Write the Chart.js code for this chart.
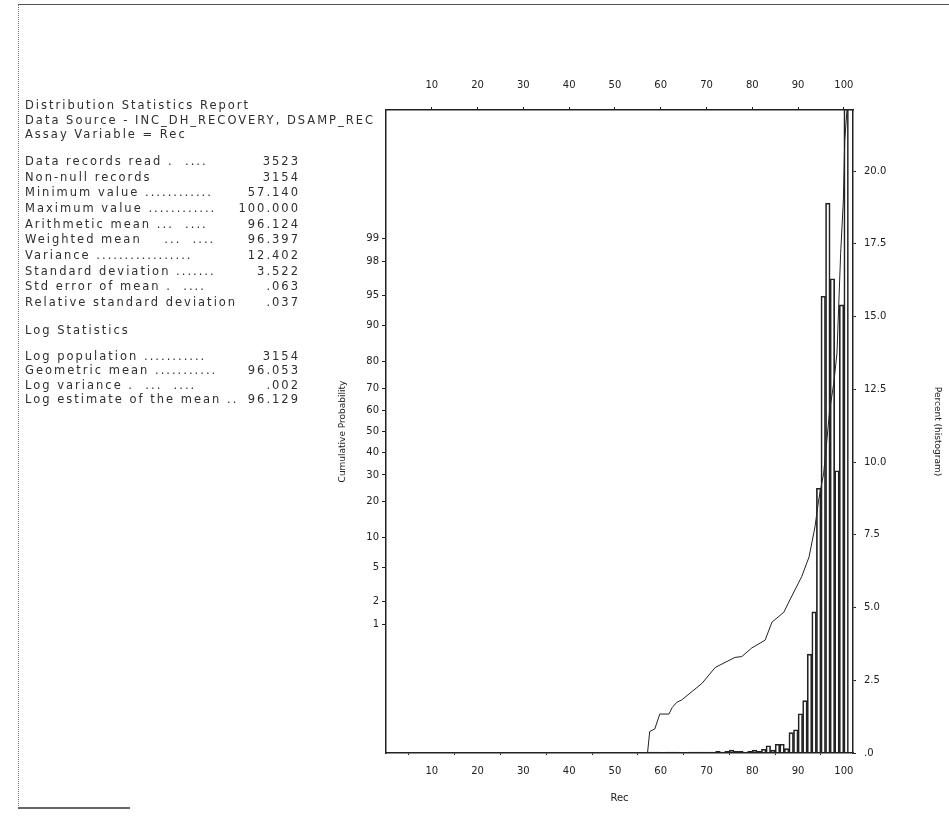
<!DOCTYPE html>
<html>
<head>
<meta charset="utf-8">
<title>Distribution Statistics Report</title>
<script src="https://cdn.jsdelivr.net/npm/chart.js@4.4.1/dist/chart.umd.min.js"></script>
<style>
  body { margin: 0; background: #fff; }
  #page { position: relative; width: 949px; height: 832px; overflow: hidden; font-family: "DejaVu Sans", sans-serif; color: #2e2e2e; }
  #sheet { position: absolute; left: 18px; top: 4px; width: 940px; height: 803px; border-top: 1px solid #555; border-left: 1px dotted #777; }
  #foot { position: absolute; left: 18px; top: 807px; width: 112px; border-top: 2px solid #666; }
  #chart { position: absolute; left: 0; top: 0; }
  .stats { position: absolute; left: 25px; width: 275px; font-size: 11.5px; letter-spacing: 2px; z-index: 2; }
  .row { display: flex; justify-content: space-between; white-space: pre; }
</style>
</head>
<body>
<div id="page">
  <div id="sheet"></div>
  <div id="foot"></div>
  <canvas id="chart" width="949" height="832"></canvas>

  <div class="stats" style="top:98px; line-height:14.5px; width:330px">
    <div class="row"><span>Distribution Statistics Report</span></div>
    <div class="row"><span>Data Source - INC_DH_RECOVERY, DSAMP_REC</span></div>
    <div class="row"><span>Assay Variable = Rec</span></div>
  </div>
  <div class="stats" style="top:154px; line-height:15.67px">
    <div class="row"><span>Data records read .  ....</span><span>3523</span></div>
    <div class="row"><span>Non-null records</span><span>3154</span></div>
    <div class="row"><span>Minimum value ............</span><span>57.140</span></div>
    <div class="row"><span>Maximum value ............</span><span>100.000</span></div>
    <div class="row"><span>Arithmetic mean ...  ....</span><span>96.124</span></div>
    <div class="row"><span>Weighted mean    ...  ....</span><span>96.397</span></div>
    <div class="row"><span>Variance .................</span><span>12.402</span></div>
    <div class="row"><span>Standard deviation .......</span><span>3.522</span></div>
    <div class="row"><span>Std error of mean .  ....</span><span>.063</span></div>
    <div class="row"><span>Relative standard deviation</span><span>.037</span></div>
  </div>
  <div class="stats" style="top:323px; line-height:15px">
    <div class="row"><span>Log Statistics</span></div>
  </div>
  <div class="stats" style="top:349px; line-height:14.33px">
    <div class="row"><span>Log population ...........</span><span>3154</span></div>
    <div class="row"><span>Geometric mean ...........</span><span>96.053</span></div>
    <div class="row"><span>Log variance .  ...  ....</span><span>.002</span></div>
    <div class="row"><span>Log estimate of the mean ..</span><span>96.129</span></div>
  </div>
</div>

<script>
// axis ticks
const recTicks = [10, 20, 30, 40, 50, 60, 70, 80, 90, 100];
const probTicks = [1, 2, 5, 10, 20, 30, 40, 50, 60, 70, 80, 90, 95, 98, 99];
const pctTicks = [0, 2.5, 5, 7.5, 10, 12.5, 15, 17.5, 20];

// histogram: lower edge of each 1-unit Rec class, percent of samples
const binStart = [57, 58, 59, 60, 61, 62, 63, 64, 65, 66, 67, 68, 69, 70, 71, 72, 73, 74, 75, 76, 77, 78,
                  79, 80, 81, 82, 83, 84, 85, 86, 87, 88, 89, 90, 91, 92, 93, 94, 95, 96, 97, 98, 99, 100];
const binPct = [0.03, 0.03, 0.03, 0, 0.03, 0.03, 0.03, 0, 0, 0.03, 0.03, 0.03, 0.03, 0.03, 0.03, 0.06, 0.03, 0.06, 0.1, 0.06, 0.06, 0.03,
                0.06, 0.1, 0.06, 0.13, 0.25, 0.1, 0.3, 0.3, 0.15, 0.7, 0.8, 1.35, 1.8, 3.4, 4.85, 9.1, 15.7, 18.9, 16.3, 9.7, 15.4, 23];

// cumulative probability curve (Rec, cumulative %)
const cumRec = [57.1, 57.6, 58.7, 59.8, 61.8, 62.5, 63.5, 64.6, 69.0, 71.9, 76.2, 77.7, 79.9, 82.8, 84.3, 86.9,
                88.2, 90.8, 92.4, 93.7, 94.5, 95.6, 96.3, 96.9, 97.8, 98.5, 99.3, 99.9, 100.2, 100.7];
const cumPct = [0.005, 0.0147, 0.0165, 0.0325, 0.0325, 0.043, 0.054, 0.06, 0.118, 0.22, 0.32, 0.33, 0.45, 0.59, 1.07, 1.46,
                2.1, 4.0, 6.5, 12.5, 20.4, 30.8, 46, 60, 72, 82.8, 98.4, 99.74, 99.978, 99.995];

// inverse normal, for the probability axis
function probit(p) {
    const a = [-3.969683028665376e+01, 2.209460984245205e+02, -2.759285104469687e+02, 1.383577518672690e+02, -3.066479806614716e+01, 2.506628277459239e+00];
    const b = [-5.447609879822406e+01, 1.615858368580409e+02, -1.556989798598866e+02, 6.680131188771972e+01, -1.328068155288572e+01];
    const c = [-7.784894002430293e-03, -3.223964580411365e-01, -2.400758277161838e+00, -2.549671010115443e+00, 4.374664141464968e+00, 2.938163982698783e+00];
    const d = [7.784695709041462e-03, 3.224671290700398e-01, 2.445134137142996e+00, 3.754408661907416e+00];
    const lo = 0.02425;
    if (p < lo) {
        const q = Math.sqrt(-2 * Math.log(p));
        return (((((c[0]*q + c[1])*q + c[2])*q + c[3])*q + c[4])*q + c[5]) / ((((d[0]*q + d[1])*q + d[2])*q + d[3])*q + 1);
    }
    if (p > 1 - lo) {
        const q = Math.sqrt(-2 * Math.log(1 - p));
        return -(((((c[0]*q + c[1])*q + c[2])*q + c[3])*q + c[4])*q + c[5]) / ((((d[0]*q + d[1])*q + d[2])*q + d[3])*q + 1);
    }
    const q = p - 0.5, r = q * q;
    return (((((a[0]*r + a[1])*r + a[2])*r + a[3])*r + a[4])*r + a[5])*q / (((((b[0]*r + b[1])*r + b[2])*r + b[3])*r + b[4])*r + 1);
}

const ink = '#222';
const font = { family: 'DejaVu Sans', size: 10 };
const tickGrid = { display: true, drawOnChartArea: false, drawTicks: true, tickLength: 4, color: ink, lineWidth: 1 };
const frame = { display: true, color: ink, width: 1.5 };

const ctx = document.getElementById('chart').getContext('2d');

new Chart(ctx, {
    data: {
        datasets: [
            {
                type: 'line',
                label: 'Cumulative',
                data: cumRec.map((r, i) => ({ x: r, y: probit(cumPct[i] / 100) })),
                xAxisID: 'x', yAxisID: 'y',
                borderColor: ink, borderWidth: 1, pointRadius: 0, tension: 0, fill: false, order: 0
            },
            {
                type: 'bar',
                label: 'Percent',
                data: binStart.map((s, i) => ({ x: s + 0.5, y: binPct[i] })),
                xAxisID: 'x', yAxisID: 'y2',
                backgroundColor: 'rgba(255,255,255,0)', borderColor: ink, borderWidth: 1,
                barPercentage: 1, categoryPercentage: 1, order: 1
            }
        ]
    },
    options: {
        responsive: false,
        animation: false,
        devicePixelRatio: 1,
        layout: { padding: { left: 330, top: 70, right: 0, bottom: 28 } },
        plugins: { legend: { display: false }, tooltip: { enabled: false } },
        scales: {
            x: {
                type: 'linear', position: 'bottom', min: 0, max: 102, offset: false,
                afterBuildTicks: s => { s.ticks = recTicks.map(v => ({ value: v })); },
                afterFit: s => { s.height = 51; },
                grid: { ...tickGrid, tickLength: 2 },
                border: frame,
                ticks: { color: ink, font: font, padding: 10, maxRotation: 0, autoSkip: false },
                title: { display: true, text: 'Rec', color: ink, font: font, padding: { top: 0, bottom: 0 } }
            },
            x2: {
                type: 'linear', position: 'top', min: 0, max: 102, offset: false,
                afterBuildTicks: s => { s.ticks = recTicks.map(v => ({ value: v })); },
                afterFit: s => { s.height = 40; },
                grid: { ...tickGrid, tickLength: 3 },
                border: frame,
                ticks: { color: ink, font: font, padding: 16, maxRotation: 0, autoSkip: false }
            },
            y: {
                type: 'linear', position: 'left', min: -3.88, max: 3.88,
                afterBuildTicks: s => { s.ticks = probTicks.map(p => ({ value: probit(p / 100) })); },
                afterFit: s => { s.width = 56; },
                grid: tickGrid,
                border: frame,
                ticks: { color: ink, font: font, padding: 3, autoSkip: false, callback: (v, i) => String(probTicks[i]) },
                title: { display: true, text: 'Cumulative Probability', color: ink, font: { family: 'DejaVu Sans', size: 9 }, padding: { top: 7, bottom: 0 } }
            },
            y2: {
                type: 'linear', position: 'right', min: 0, max: 22.1,
                afterBuildTicks: s => { s.ticks = pctTicks.map(v => ({ value: v })); },
                afterFit: s => { s.width = 96; },
                grid: { ...tickGrid, tickLength: 3 },
                border: frame,
                ticks: { color: ink, font: font, padding: 8, autoSkip: false, callback: v => v === 0 ? '.0' : v.toFixed(1) },
                title: { display: true, text: 'Percent (histogram)', color: ink, font: { family: 'DejaVu Sans', size: 9 }, padding: { top: 6, bottom: 0 } }
            }
        }
    }
});
</script>
</body>
</html>
